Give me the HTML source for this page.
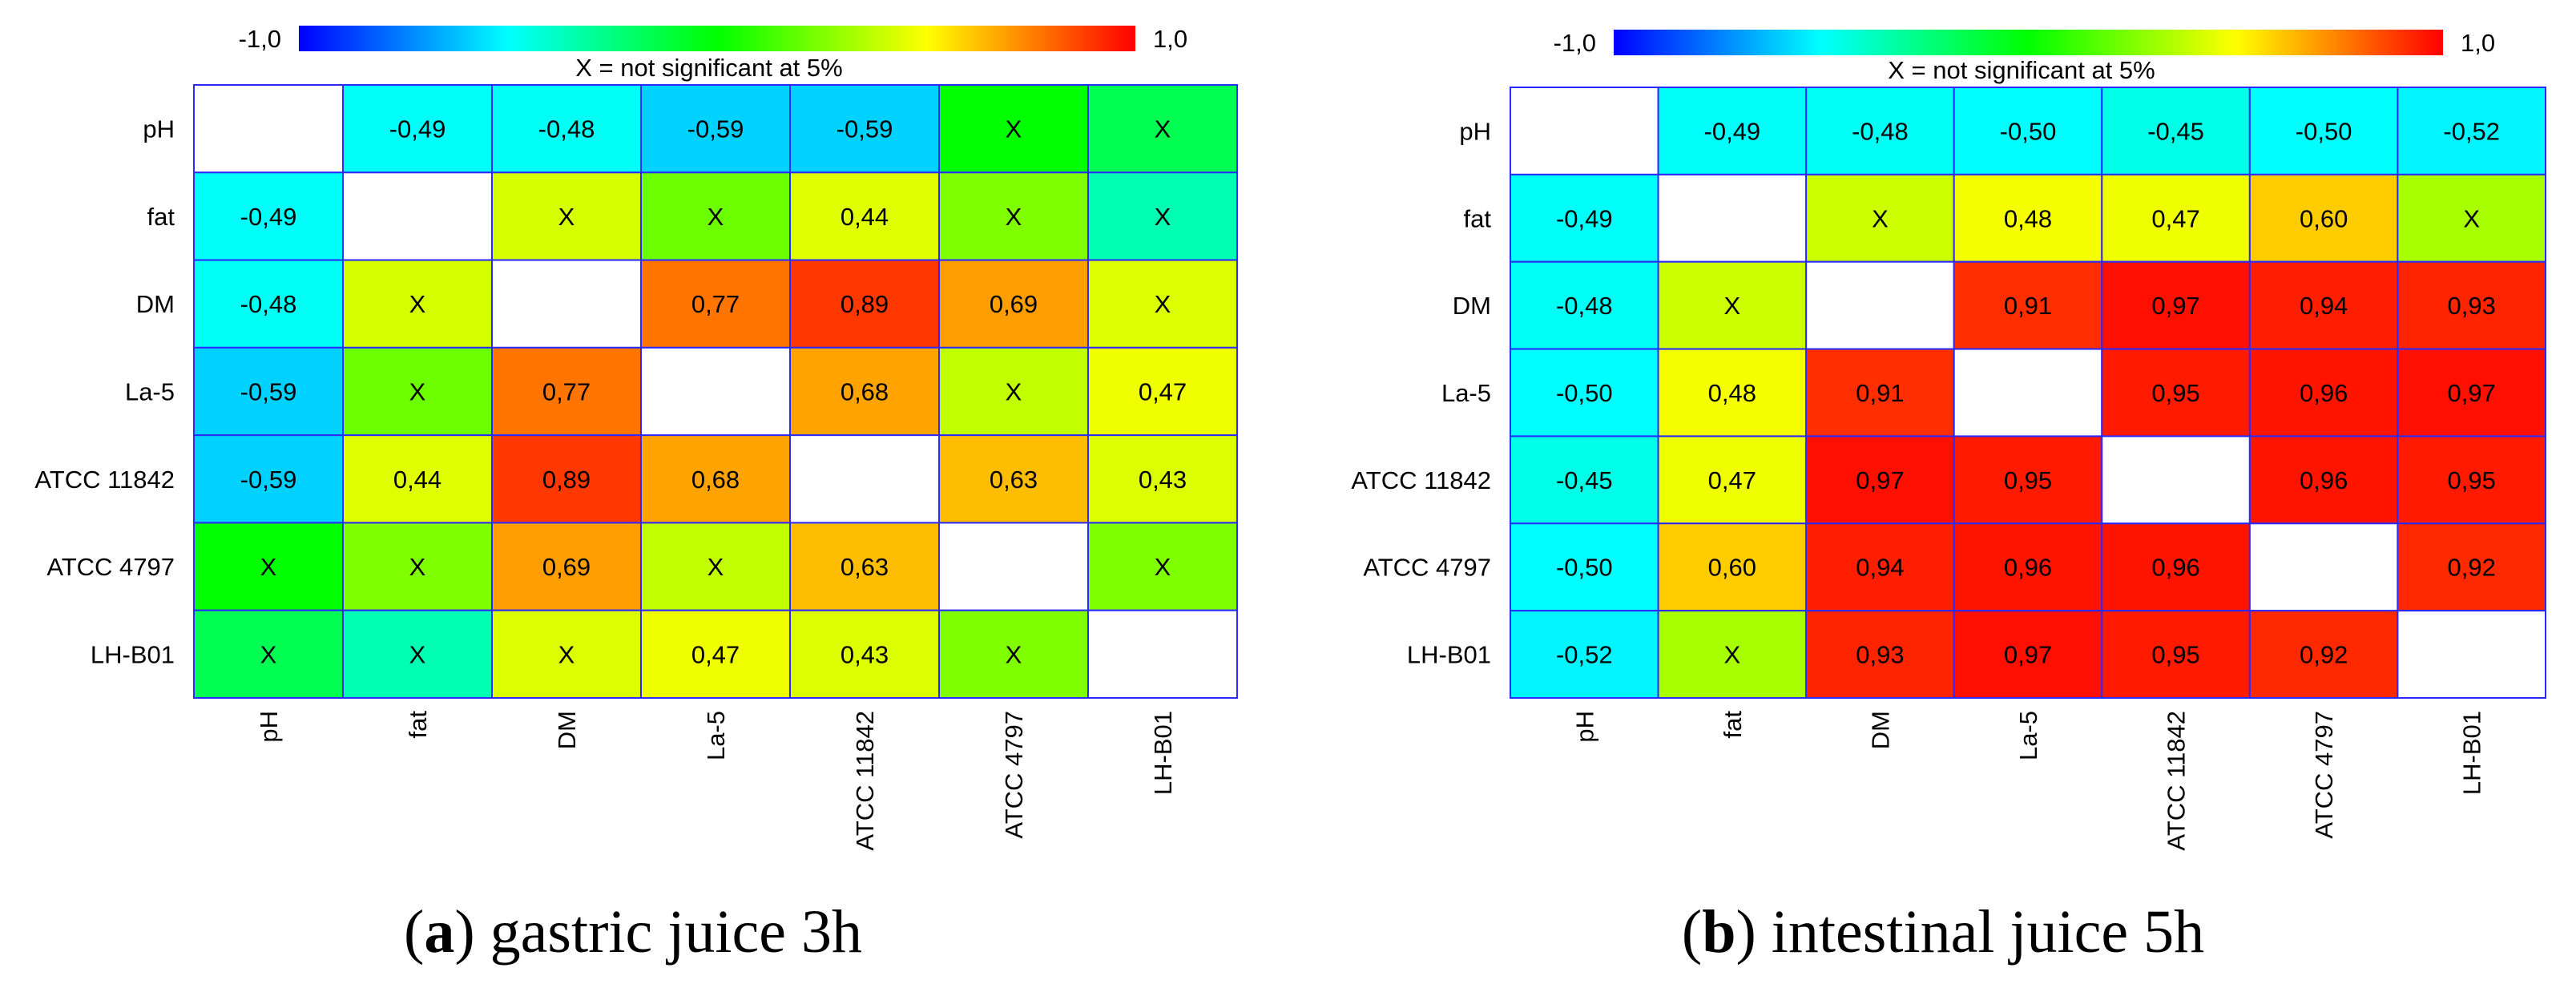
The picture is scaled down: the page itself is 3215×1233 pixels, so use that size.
<!DOCTYPE html>
<html><head><meta charset="utf-8">
<style>
html,body{margin:0;padding:0;background:#fff;}
svg{display:block;}
text{font-family:"Liberation Sans",Arial,sans-serif;fill:#000;}
.cap{font-family:"Liberation Serif","Times New Roman",serif;}
</style></head>
<body>
<svg id="fig" width="3215" height="1233" viewBox="0 0 3215 1233" xmlns="http://www.w3.org/2000/svg">
<defs>
<linearGradient id="jet" x1="0" x2="1" y1="0" y2="0">
<stop offset="0" stop-color="#0000ff"/><stop offset="0.25" stop-color="#00ffff"/>
<stop offset="0.5" stop-color="#00ff00"/><stop offset="0.75" stop-color="#ffff00"/>
<stop offset="1" stop-color="#ff0000"/>
</linearGradient>
</defs>
</svg>
<script>
const variables = ["pH","fat","DM","La-5","ATCC 11842","ATCC 4797","LH-B01"];
// panel a values (non-significant values estimated from colour)
const valuesA = [
 [null,-0.49,-0.48,-0.59,-0.59,0.00,-0.16],
 [-0.49,null,0.42,0.21,0.44,0.25,-0.35],
 [-0.48,0.42,null,0.77,0.89,0.69,0.43],
 [-0.59,0.21,0.77,null,0.68,0.38,0.47],
 [-0.59,0.44,0.89,0.68,null,0.63,0.43],
 [0.00,0.25,0.69,0.38,0.63,null,0.25],
 [-0.16,-0.35,0.43,0.47,0.43,0.25,null]];
const sigA = [
 [0,1,1,1,1,0,0],[1,0,0,0,1,0,0],[1,0,0,1,1,1,0],[1,0,1,0,1,0,1],
 [1,1,1,1,0,1,1],[0,0,1,0,1,0,0],[0,0,0,1,1,0,0]];
const valuesB = [
 [null,-0.49,-0.48,-0.50,-0.45,-0.50,-0.52],
 [-0.49,null,0.40,0.48,0.47,0.60,0.33],
 [-0.48,0.40,null,0.91,0.97,0.94,0.93],
 [-0.50,0.48,0.91,null,0.95,0.96,0.97],
 [-0.45,0.47,0.97,0.95,null,0.96,0.95],
 [-0.50,0.60,0.94,0.96,0.96,null,0.92],
 [-0.52,0.33,0.93,0.97,0.95,0.92,null]];
const sigB = [
 [0,1,1,1,1,1,1],[1,0,0,1,1,1,0],[1,0,0,1,1,1,1],[1,1,1,0,1,1,1],
 [1,1,1,1,0,1,1],[1,1,1,1,1,0,1],[1,0,1,1,1,1,0]];
const scaleLabels = ["-1,0","1,0"];
const captionA = ["a"," gastric juice 3h"];
const captionB = ["b"," intestinal juice 5h"];

const NS="http://www.w3.org/2000/svg";
const svg=document.getElementById('fig');
function mk(tag,attrs,parent){const e=document.createElementNS(NS,tag);for(const k in attrs)e.setAttribute(k,attrs[k]);(parent||svg).appendChild(e);return e;}
function jet(v){
  const stops=[[-1,[0,0,255]],[-0.5,[0,255,255]],[0,[0,255,0]],[0.5,[255,255,0]],[1,[255,0,0]]];
  v=Math.max(-1,Math.min(1,v));
  for(let i=0;i<4;i++){const a=stops[i],b=stops[i+1];if(v<=b[0]){const t=(v-a[0])/(b[0]-a[0]);
    return 'rgb('+a[1].map((c,j)=>Math.round(c+(b[1][j]-c)*t)).join(',')+')';}}
  return 'rgb(255,0,0)';
}
function fmt(v){return v.toFixed(2).replace('.',',');}

function panel(cfg){
  const g=mk('g',{});
  
  
  const n=variables.length, cw=cfg.w/n, rh=cfg.h/n;
  const xs=i=>cfg.x+i*cw, ys=j=>cfg.y+j*rh;
  // colour bar
  const cb=mk('rect',{x:cfg.cbx,y:cfg.cby,width:cfg.cbw,height:32,fill:'url(#jet)'},g);
  
  
  const l1=mk('text',{x:cfg.cbx-22,y:cfg.cby+27,'font-size':31,'text-anchor':'end'},g);l1.textContent=scaleLabels[0];
  
  
  const l2=mk('text',{x:cfg.cbx+cfg.cbw+22,y:cfg.cby+27,'font-size':31},g);l2.textContent=scaleLabels[1];
  
  
  const st=mk('text',{x:cfg.x+cfg.w/2-8,y:cfg.y-11,'font-size':31,'text-anchor':'middle'},g);
  st.textContent='X = not significant at 5%';
  
  
  for(let r=0;r<n;r++){
    for(let c=0;c<n;c++){
      const v=cfg.vals[r][c];
      const rc=mk('rect',{x:xs(c),y:ys(r),width:cw,height:rh,fill:v===null?'#fff':jet(v),stroke:'#2a2aff','stroke-width':2},g);
      
      
      if(v!==null){
        const t=mk('text',{x:xs(c)+cw/2,y:ys(r)+rh/2+11,'font-size':31,'text-anchor':'middle'},g);
        t.textContent=cfg.sig[r][c]?fmt(v):'X';
        
        
      }
    }
    const rl=mk('text',{x:cfg.x-24,y:ys(r)+rh/2+11,'font-size':31,'text-anchor':'end'},g);
    rl.textContent=variables[r];
    
    
  }
  for(let c=0;c<n;c++){
    const cx=xs(c)+cw/2+11, cy=cfg.y+cfg.h+16;
    const cl=mk('text',{x:cx,y:cy,'font-size':31,'text-anchor':'end',transform:'rotate(-90 '+cx+' '+cy+')'},g);
    cl.textContent=variables[c];
    
    
  }
  const cap=mk('text',{x:cfg.capx,y:1188,'font-size':76,'text-anchor':'middle',class:'cap'},g);
  
  
  cap.appendChild(document.createTextNode('('));
  const b=mk('tspan',{'font-weight':'bold'},cap);b.textContent=cfg.cap[0];
  cap.appendChild(document.createTextNode(')'+cfg.cap[1]));
}
panel({name:'heatmap-gastric',x:242,y:106,w:1302,h:765,cbx:373,cby:32,cbw:1044,vals:valuesA,sig:sigA,capx:790,cap:captionA});
panel({name:'heatmap-intestinal',x:1885,y:109,w:1292,h:762,cbx:2014,cby:37,cbw:1035,vals:valuesB,sig:sigB,capx:2425,cap:captionB});
</script>
</body></html>
